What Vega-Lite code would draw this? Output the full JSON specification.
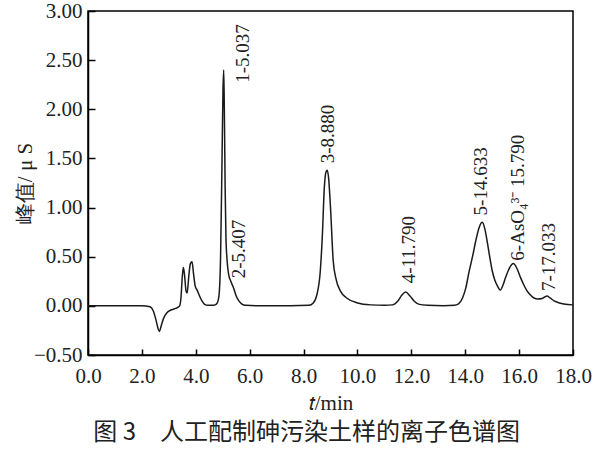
{
  "$schema": "https://vega.github.io/schema/vega-lite/v6.json",
  "width": 485,
  "height": 344,
  "autosize": "none",
  "padding": {"left": 88, "top": 11, "right": 27, "bottom": 95},
  "background": "white",
  "config": {
    "view": {"stroke": "black", "strokeWidth": 1.5},
    "font": "Liberation Serif"
  },
  "title": {
    "text": "图 3　人工配制砷污染土样的离子色谱图",
    "orient": "bottom",
    "font": "Noto Sans CJK SC",
    "fontSize": 24,
    "fontWeight": "normal",
    "color": "#222",
    "anchor": "middle",
    "frame": "bounds",
    "offset": 8,
    "dx": 4
  },
  "layer": [
    {
      "mark": {"type": "rule", "color": "#888", "strokeDash": [7, 4], "strokeWidth": 1},
      "encoding": {"y": {"datum": 0, "type": "quantitative"}}
    },
    {
      "data": {
        "values": [
          {"t": 0.0, "v": 0.0}, {"t": 1.0, "v": 0.0}, {"t": 2.0, "v": 0.0},
          {"t": 2.3, "v": -0.01}, {"t": 2.42, "v": -0.05}, {"t": 2.52, "v": -0.14},
          {"t": 2.6, "v": -0.23}, {"t": 2.65, "v": -0.26}, {"t": 2.72, "v": -0.2},
          {"t": 2.8, "v": -0.13}, {"t": 2.93, "v": -0.07}, {"t": 3.1, "v": -0.04},
          {"t": 3.3, "v": -0.02}, {"t": 3.4, "v": 0.0}, {"t": 3.45, "v": 0.08},
          {"t": 3.5, "v": 0.3}, {"t": 3.54, "v": 0.39}, {"t": 3.58, "v": 0.32},
          {"t": 3.64, "v": 0.15}, {"t": 3.68, "v": 0.13}, {"t": 3.74, "v": 0.3},
          {"t": 3.8, "v": 0.43}, {"t": 3.86, "v": 0.45}, {"t": 3.92, "v": 0.32},
          {"t": 3.98, "v": 0.2}, {"t": 4.05, "v": 0.16}, {"t": 4.14, "v": 0.1},
          {"t": 4.23, "v": 0.05}, {"t": 4.33, "v": 0.015}, {"t": 4.45, "v": 0.005},
          {"t": 4.6, "v": 0.005}, {"t": 4.72, "v": 0.01}, {"t": 4.8, "v": 0.03},
          {"t": 4.86, "v": 0.1}, {"t": 4.92, "v": 0.5}, {"t": 4.97, "v": 1.4},
          {"t": 5.01, "v": 2.2}, {"t": 5.037, "v": 2.4}, {"t": 5.06, "v": 2.0},
          {"t": 5.09, "v": 1.2}, {"t": 5.12, "v": 0.7}, {"t": 5.16, "v": 0.47},
          {"t": 5.22, "v": 0.32}, {"t": 5.3, "v": 0.25}, {"t": 5.407, "v": 0.18},
          {"t": 5.5, "v": 0.1}, {"t": 5.6, "v": 0.05}, {"t": 5.7, "v": 0.02},
          {"t": 5.85, "v": 0.005}, {"t": 6.5, "v": 0.0}, {"t": 7.5, "v": 0.0},
          {"t": 8.2, "v": 0.005}, {"t": 8.36, "v": 0.03}, {"t": 8.5, "v": 0.12},
          {"t": 8.62, "v": 0.35}, {"t": 8.7, "v": 0.73}, {"t": 8.77, "v": 1.2},
          {"t": 8.83, "v": 1.36}, {"t": 8.88, "v": 1.38}, {"t": 8.93, "v": 1.3},
          {"t": 9.0, "v": 1.0}, {"t": 9.1, "v": 0.46}, {"t": 9.2, "v": 0.28},
          {"t": 9.37, "v": 0.15}, {"t": 9.6, "v": 0.08}, {"t": 10.0, "v": 0.03},
          {"t": 10.5, "v": 0.01}, {"t": 11.0, "v": 0.005}, {"t": 11.3, "v": 0.01},
          {"t": 11.5, "v": 0.05}, {"t": 11.65, "v": 0.11}, {"t": 11.79, "v": 0.14},
          {"t": 11.95, "v": 0.1}, {"t": 12.1, "v": 0.05}, {"t": 12.3, "v": 0.015},
          {"t": 12.6, "v": 0.005}, {"t": 13.2, "v": 0.0}, {"t": 13.6, "v": 0.005},
          {"t": 13.75, "v": 0.02}, {"t": 13.9, "v": 0.08}, {"t": 14.02, "v": 0.18},
          {"t": 14.13, "v": 0.33}, {"t": 14.27, "v": 0.5}, {"t": 14.39, "v": 0.66},
          {"t": 14.52, "v": 0.8}, {"t": 14.633, "v": 0.85}, {"t": 14.73, "v": 0.78},
          {"t": 14.83, "v": 0.63}, {"t": 14.92, "v": 0.48}, {"t": 15.0, "v": 0.36},
          {"t": 15.1, "v": 0.26}, {"t": 15.2, "v": 0.2}, {"t": 15.3, "v": 0.16},
          {"t": 15.4, "v": 0.21}, {"t": 15.5, "v": 0.29}, {"t": 15.65, "v": 0.39},
          {"t": 15.79, "v": 0.43}, {"t": 15.92, "v": 0.38}, {"t": 16.05, "v": 0.29},
          {"t": 16.18, "v": 0.21}, {"t": 16.3, "v": 0.15}, {"t": 16.42, "v": 0.11},
          {"t": 16.55, "v": 0.08}, {"t": 16.7, "v": 0.07}, {"t": 16.85, "v": 0.075},
          {"t": 16.95, "v": 0.09}, {"t": 17.033, "v": 0.1}, {"t": 17.15, "v": 0.08},
          {"t": 17.3, "v": 0.05}, {"t": 17.5, "v": 0.03}, {"t": 17.66, "v": 0.02},
          {"t": 18.0, "v": 0.01}
        ]
      },
      "mark": {"type": "line", "color": "#1a1a1a", "strokeWidth": 1.5, "interpolate": "monotone"},
      "encoding": {
        "x": {
          "field": "t",
          "type": "quantitative",
          "scale": {"domain": [0, 18], "nice": false},
          "axis": {
            "values": [0, 2, 4, 6, 8, 10, 12, 14, 16, 18],
            "format": ".1f",
            "grid": false,
            "labelFont": "Liberation Serif",
            "labelFontSize": 21,
            "labelColor": "#222",
            "labelPadding": 16,
            "labelFlush": false,
            "labelOverlap": false,
            "tickSize": -6,
            "tickColor": "black",
            "tickWidth": 1.5,
            "domainColor": "black",
            "domainWidth": 1.5,
            "title": "𝑡/min",
            "titleFont": "Liberation Serif",
            "titleFontSize": 21,
            "titleFontWeight": "normal",
            "titleColor": "#222",
            "titleBaseline": "alphabetic",
            "titleY": 54
          }
        },
        "y": {
          "field": "v",
          "type": "quantitative",
          "scale": {"domain": [-0.5, 3.0], "nice": false},
          "axis": {
            "values": [-0.5, 0, 0.5, 1.0, 1.5, 2.0, 2.5, 3.0],
            "format": ".2f",
            "grid": false,
            "labelFont": "Liberation Serif",
            "labelFontSize": 21,
            "labelColor": "#222",
            "labelPadding": 13,
            "labelFlush": false,
            "labelOverlap": false,
            "tickSize": -7,
            "tickColor": "black",
            "tickWidth": 1.5,
            "domainColor": "black",
            "domainWidth": 1.5,
            "title": "峰值/ μ S",
            "titleFont": "Liberation Serif",
            "titleFontSize": 21,
            "titleFontWeight": "normal",
            "titleColor": "#222",
            "titleAngle": -90,
            "titleAlign": "center",
            "titleBaseline": "middle",
            "titleX": -63,
            "titleY": 172
          }
        }
      }
    },
    {
      "data": {
        "values": [
          {"label": "1-5.037", "lx": 5.76, "ly": 2.27},
          {"label": "2-5.407", "lx": 5.61, "ly": 0.28},
          {"label": "3-8.880", "lx": 8.92, "ly": 1.45},
          {"label": "4-11.790", "lx": 11.9, "ly": 0.23},
          {"label": "5-14.633", "lx": 14.57, "ly": 0.92},
          {"label": "6-AsO₄³⁻ 15.790", "lx": 15.95, "ly": 0.46},
          {"label": "7-17.033", "lx": 17.1, "ly": 0.15}
        ]
      },
      "mark": {"type": "text", "angle": 270, "align": "left", "baseline": "middle", "font": "Liberation Serif", "fontSize": 19, "color": "#222"},
      "encoding": {
        "x": {"field": "lx", "type": "quantitative"},
        "y": {"field": "ly", "type": "quantitative"},
        "text": {"field": "label"}
      }
    }
  ]
}
